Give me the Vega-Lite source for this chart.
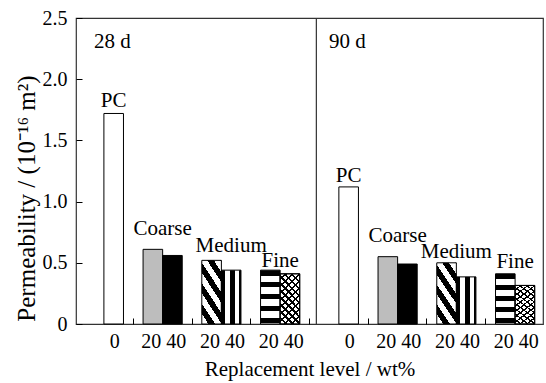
{
  "$schema": "https://vega.github.io/schema/vega-lite/v6.json",
  "width": 467,
  "height": 306,
  "autosize": {"type": "none"},
  "padding": {"left": 76, "top": 18, "right": 3, "bottom": 59},
  "background": "white",
  "config": {
    "view": {"stroke": "#333", "strokeWidth": 1.2},
    "font": "Times New Roman, Liberation Serif, serif",
    "text": {"font": "Times New Roman, Liberation Serif, serif"},
    "axis": {
      "grid": false,
      "domain": false,
      "labelFont": "Times New Roman, Liberation Serif, serif",
      "titleFont": "Times New Roman, Liberation Serif, serif",
      "labelColor": "black",
      "titleColor": "black",
      "labelFontSize": 20,
      "titleFontSize": 21,
      "titleFontWeight": "normal",
      "tickColor": "black",
      "tickWidth": 1
    }
  },
  "datasets": {
    "bars": [
      {"slot": "L-PC", "value": 1.72, "pat": "white"},
      {"slot": "L-C20", "value": 0.61, "pat": "gray"},
      {"slot": "L-C40", "value": 0.56, "pat": "black"},
      {"slot": "L-M20", "value": 0.52, "pat": "diag"},
      {"slot": "L-M40", "value": 0.44, "pat": "vert"},
      {"slot": "L-F20", "value": 0.44, "pat": "horiz"},
      {"slot": "L-F40", "value": 0.41, "pat": "check"},
      {"slot": "R-PC", "value": 1.12, "pat": "white"},
      {"slot": "R-C20", "value": 0.55, "pat": "gray"},
      {"slot": "R-C40", "value": 0.49, "pat": "black"},
      {"slot": "R-M20", "value": 0.50, "pat": "diag"},
      {"slot": "R-M40", "value": 0.385, "pat": "vert"},
      {"slot": "R-F20", "value": 0.41, "pat": "horiz"},
      {"slot": "R-F40", "value": 0.315, "pat": "check"}
    ],
    "labC": [
      {"slot": "L-PC", "label": "PC", "value": 1.773},
      {"slot": "L-M40", "label": "Medium", "value": 0.588},
      {"slot": "R-PC", "label": "PC", "value": 1.16}
    ],
    "labE": [
      {"slot": "L-C20", "label": "Coarse", "value": 0.727},
      {"slot": "L-F20", "label": "Fine", "value": 0.466},
      {"slot": "R-C20", "label": "Coarse", "value": 0.67},
      {"slot": "R-M20", "label": "Medium", "value": 0.539},
      {"slot": "R-F20", "label": "Fine", "value": 0.458}
    ],
    "panels": [
      {"slot": "pad", "label": "28 d", "value": 2.255},
      {"slot": "gap", "label": "90 d", "value": 2.255}
    ],
    "div": [{"slot": "tL4"}]
  },
  "layer": [
    {
      "data": {"name": "bars"},
      "transform": [{"filter": {"field": "pat", "oneOf": ["white", "gray", "black"]}}],
      "mark": {"type": "bar", "stroke": "black", "strokeWidth": 1},
      "encoding": {
        "x": {
          "field": "slot",
          "type": "nominal",
          "sort": null,
          "scale": {
            "domain": ["pad", "L-PC", "tL1", "L-C20", "L-C40", "tL2", "L-M20", "L-M40", "tL3", "L-F20", "L-F40", "tL4", "gap", "R-PC", "tR1", "R-C20", "R-C40", "tR2", "R-M20", "R-M40", "tR3", "R-F20", "R-F40"],
            "paddingInner": 0,
            "paddingOuter": 0.425
          },
          "axis": {
            "labelAngle": 0,
            "labelExpr": "indexof(datum.value,'PC')>=0 ? '0' : (indexof(datum.value,'20')>=0 ? '20 40' : '')",
            "labelOffset": {"condition": {"test": "indexof(datum.value,'20')>=0", "value": 11}, "value": 1},
            "tickOpacity": {"condition": {"test": "indexof(datum.value,'t')==0", "value": 1}, "value": 0},
            "tickSize": -6,
            "labelPadding": 13,
            "titlePadding": 7
          },
          "title": "Replacement level / wt%"
        },
        "y": {
          "field": "value",
          "type": "quantitative",
          "scale": {"domain": [0, 2.5], "nice": false},
          "axis": {
            "values": [0, 0.5, 1, 1.5, 2, 2.5],
            "labelExpr": "datum.value == 0 ? '0' : format(datum.value, '.1f')",
            "tickSize": -6,
            "labelPadding": 15,
            "titlePadding": 3,
            "titleFontSize": 25,
            "titleAlign": "center",
            "titleAnchor": "middle",
            "titleY": 180
          },
          "title": "Permeability / (10⁻¹⁶ m²)"
        },
        "color": {
          "field": "pat",
          "type": "nominal",
          "scale": {"domain": ["white", "gray", "black"], "range": ["white", "#bdbdbd", "black"]},
          "legend": null
        }
      }
    },
    {
      "data": {"name": "bars"},
      "transform": [{"filter": {"field": "pat", "equal": "diag"}}],
      "mark": {
        "type": "bar",
        "stroke": "black",
        "strokeWidth": 1,
        "fill": {
          "gradient": "linear", "x1": 0, "y1": 1, "x2": 0.571, "y2": -0.203,
          "stops": [
            {"offset": 0, "color": "white"}, {"offset": 0.109, "color": "white"},
            {"offset": 0.109, "color": "black"}, {"offset": 0.219, "color": "black"},
            {"offset": 0.219, "color": "white"}, {"offset": 0.328, "color": "white"},
            {"offset": 0.328, "color": "black"}, {"offset": 0.438, "color": "black"},
            {"offset": 0.438, "color": "white"}, {"offset": 0.547, "color": "white"},
            {"offset": 0.547, "color": "black"}, {"offset": 0.656, "color": "black"},
            {"offset": 0.656, "color": "white"}, {"offset": 0.766, "color": "white"},
            {"offset": 0.766, "color": "black"}, {"offset": 0.875, "color": "black"},
            {"offset": 0.875, "color": "white"}, {"offset": 0.984, "color": "white"},
            {"offset": 0.984, "color": "black"}, {"offset": 1, "color": "black"}
          ]
        }
      },
      "encoding": {
        "x": {"field": "slot", "type": "nominal", "sort": null},
        "y": {"field": "value", "type": "quantitative"}
      }
    },
    {
      "data": {"name": "bars"},
      "transform": [{"filter": {"field": "pat", "equal": "vert"}}],
      "mark": {
        "type": "bar",
        "stroke": "black",
        "strokeWidth": 1,
        "fill": {
          "gradient": "linear", "x1": 0, "y1": 0, "x2": 1, "y2": 0,
          "stops": [
            {"offset": 0, "color": "black"}, {"offset": 0.2, "color": "black"},
            {"offset": 0.2, "color": "white"}, {"offset": 0.45, "color": "white"},
            {"offset": 0.45, "color": "black"}, {"offset": 0.7, "color": "black"},
            {"offset": 0.7, "color": "white"}, {"offset": 0.9, "color": "white"},
            {"offset": 0.9, "color": "black"}, {"offset": 1, "color": "black"}
          ]
        }
      },
      "encoding": {
        "x": {"field": "slot", "type": "nominal", "sort": null},
        "y": {"field": "value", "type": "quantitative"}
      }
    },
    {
      "data": {"name": "bars"},
      "transform": [{"filter": {"field": "pat", "equal": "horiz"}}],
      "mark": {
        "type": "bar",
        "stroke": "black",
        "strokeWidth": 1,
        "fill": {
          "gradient": "linear", "x1": 0, "y1": 0, "x2": 0, "y2": 1,
          "stops": [
            {"offset": 0, "color": "black"}, {"offset": 0.1, "color": "black"},
            {"offset": 0.1, "color": "white"}, {"offset": 0.222, "color": "white"},
            {"offset": 0.222, "color": "black"}, {"offset": 0.322, "color": "black"},
            {"offset": 0.322, "color": "white"}, {"offset": 0.444, "color": "white"},
            {"offset": 0.444, "color": "black"}, {"offset": 0.544, "color": "black"},
            {"offset": 0.544, "color": "white"}, {"offset": 0.667, "color": "white"},
            {"offset": 0.667, "color": "black"}, {"offset": 0.767, "color": "black"},
            {"offset": 0.767, "color": "white"}, {"offset": 0.889, "color": "white"},
            {"offset": 0.889, "color": "black"}, {"offset": 0.989, "color": "black"},
            {"offset": 0.989, "color": "white"}, {"offset": 1, "color": "white"}
          ]
        }
      },
      "encoding": {
        "x": {"field": "slot", "type": "nominal", "sort": null},
        "y": {"field": "value", "type": "quantitative"}
      }
    },
    {
      "data": {"name": "bars"},
      "transform": [{"filter": {"field": "pat", "equal": "check"}}],
      "mark": {
        "type": "bar",
        "stroke": "black",
        "strokeWidth": 1,
        "fill": {
          "gradient": "linear", "x1": 0, "y1": 0, "x2": 0.473, "y2": 1.207,
          "stops": [
            {"offset": 0, "color": "white"}, {"offset": 0.07, "color": "white"},
            {"offset": 0.07, "color": "black"}, {"offset": 0.1, "color": "black"},
            {"offset": 0.1, "color": "white"}, {"offset": 0.17, "color": "white"},
            {"offset": 0.17, "color": "black"}, {"offset": 0.2, "color": "black"},
            {"offset": 0.2, "color": "white"}, {"offset": 0.27, "color": "white"},
            {"offset": 0.27, "color": "black"}, {"offset": 0.3, "color": "black"},
            {"offset": 0.3, "color": "white"}, {"offset": 0.37, "color": "white"},
            {"offset": 0.37, "color": "black"}, {"offset": 0.4, "color": "black"},
            {"offset": 0.4, "color": "white"}, {"offset": 0.47, "color": "white"},
            {"offset": 0.47, "color": "black"}, {"offset": 0.5, "color": "black"},
            {"offset": 0.5, "color": "white"}, {"offset": 0.57, "color": "white"},
            {"offset": 0.57, "color": "black"}, {"offset": 0.6, "color": "black"},
            {"offset": 0.6, "color": "white"}, {"offset": 0.67, "color": "white"},
            {"offset": 0.67, "color": "black"}, {"offset": 0.7, "color": "black"},
            {"offset": 0.7, "color": "white"}, {"offset": 0.77, "color": "white"},
            {"offset": 0.77, "color": "black"}, {"offset": 0.8, "color": "black"},
            {"offset": 0.8, "color": "white"}, {"offset": 0.87, "color": "white"},
            {"offset": 0.87, "color": "black"}, {"offset": 0.9, "color": "black"},
            {"offset": 0.9, "color": "white"}, {"offset": 0.97, "color": "white"},
            {"offset": 0.97, "color": "black"}, {"offset": 1, "color": "black"}
          ]
        }
      },
      "encoding": {
        "x": {"field": "slot", "type": "nominal", "sort": null},
        "y": {"field": "value", "type": "quantitative"}
      }
    },
    {
      "data": {"name": "bars"},
      "transform": [{"filter": {"field": "pat", "equal": "check"}}],
      "mark": {
        "type": "bar",
        "stroke": "black",
        "strokeWidth": 1,
        "fill": {
          "gradient": "linear", "x1": 0, "y1": 1, "x2": 0.473, "y2": -0.207,
          "stops": [
            {"offset": 0, "color": "rgba(255,255,255,0)"}, {"offset": 0.07, "color": "rgba(255,255,255,0)"},
            {"offset": 0.07, "color": "black"}, {"offset": 0.1, "color": "black"},
            {"offset": 0.1, "color": "rgba(255,255,255,0)"}, {"offset": 0.17, "color": "rgba(255,255,255,0)"},
            {"offset": 0.17, "color": "black"}, {"offset": 0.2, "color": "black"},
            {"offset": 0.2, "color": "rgba(255,255,255,0)"}, {"offset": 0.27, "color": "rgba(255,255,255,0)"},
            {"offset": 0.27, "color": "black"}, {"offset": 0.3, "color": "black"},
            {"offset": 0.3, "color": "rgba(255,255,255,0)"}, {"offset": 0.37, "color": "rgba(255,255,255,0)"},
            {"offset": 0.37, "color": "black"}, {"offset": 0.4, "color": "black"},
            {"offset": 0.4, "color": "rgba(255,255,255,0)"}, {"offset": 0.47, "color": "rgba(255,255,255,0)"},
            {"offset": 0.47, "color": "black"}, {"offset": 0.5, "color": "black"},
            {"offset": 0.5, "color": "rgba(255,255,255,0)"}, {"offset": 0.57, "color": "rgba(255,255,255,0)"},
            {"offset": 0.57, "color": "black"}, {"offset": 0.6, "color": "black"},
            {"offset": 0.6, "color": "rgba(255,255,255,0)"}, {"offset": 0.67, "color": "rgba(255,255,255,0)"},
            {"offset": 0.67, "color": "black"}, {"offset": 0.7, "color": "black"},
            {"offset": 0.7, "color": "rgba(255,255,255,0)"}, {"offset": 0.77, "color": "rgba(255,255,255,0)"},
            {"offset": 0.77, "color": "black"}, {"offset": 0.8, "color": "black"},
            {"offset": 0.8, "color": "rgba(255,255,255,0)"}, {"offset": 0.87, "color": "rgba(255,255,255,0)"},
            {"offset": 0.87, "color": "black"}, {"offset": 0.9, "color": "black"},
            {"offset": 0.9, "color": "rgba(255,255,255,0)"}, {"offset": 0.97, "color": "rgba(255,255,255,0)"},
            {"offset": 0.97, "color": "black"}, {"offset": 1, "color": "black"}
          ]
        }
      },
      "encoding": {
        "x": {"field": "slot", "type": "nominal", "sort": null},
        "y": {"field": "value", "type": "quantitative"}
      }
    },
    {
      "data": {"name": "div"},
      "mark": {"type": "rule", "stroke": "#333", "strokeWidth": 1.2},
      "encoding": {
        "x": {"field": "slot", "type": "nominal", "sort": null, "bandPosition": 0.85}
      }
    },
    {
      "data": {"name": "labC"},
      "mark": {"type": "text", "font": "Times New Roman, Liberation Serif, serif", "fontSize": 21, "baseline": "alphabetic", "align": "center", "color": "black"},
      "encoding": {
        "x": {"field": "slot", "type": "nominal", "sort": null, "bandPosition": 0.5},
        "y": {"field": "value", "type": "quantitative"},
        "text": {"field": "label"}
      }
    },
    {
      "data": {"name": "labE"},
      "mark": {"type": "text", "font": "Times New Roman, Liberation Serif, serif", "fontSize": 21, "baseline": "alphabetic", "align": "center", "color": "black"},
      "encoding": {
        "x": {"field": "slot", "type": "nominal", "sort": null, "bandPosition": 1},
        "y": {"field": "value", "type": "quantitative"},
        "text": {"field": "label"}
      }
    },
    {
      "data": {"name": "panels"},
      "mark": {"type": "text", "font": "Times New Roman, Liberation Serif, serif", "fontSize": 21, "baseline": "alphabetic", "align": "left", "color": "black"},
      "encoding": {
        "x": {"field": "slot", "type": "nominal", "sort": null, "bandPosition": 0.5},
        "y": {"field": "value", "type": "quantitative"},
        "text": {"field": "label"}
      }
    }
  ]
}
